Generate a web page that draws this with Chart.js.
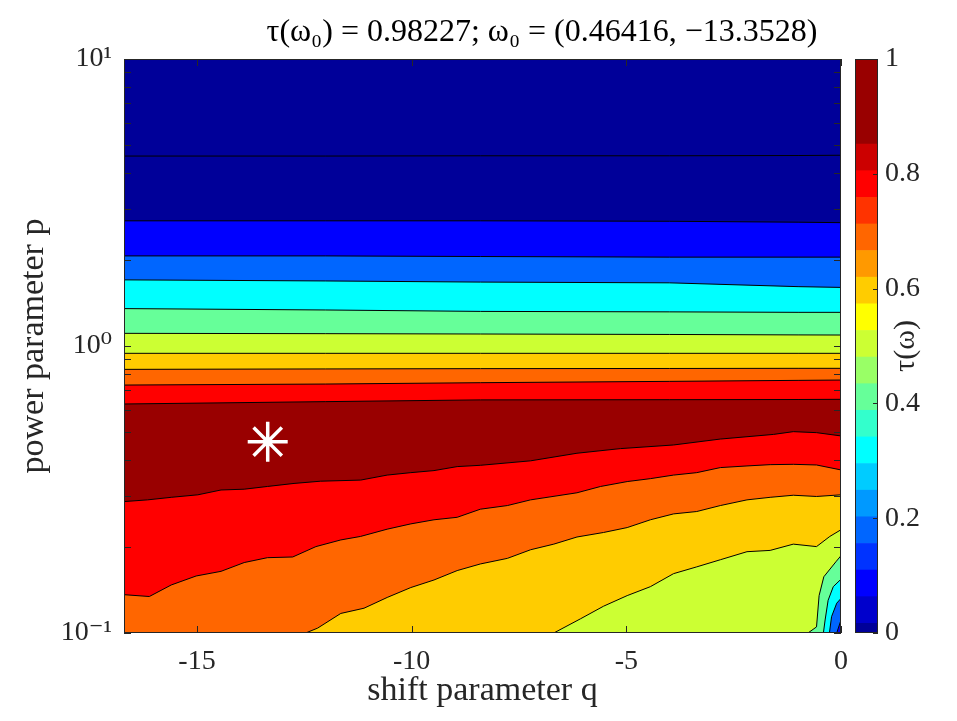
<!DOCTYPE html>
<html>
<head>
<meta charset="utf-8">
<script src="https://cdn.jsdelivr.net/npm/chart.js@4.4.0/dist/chart.umd.min.js"></script>
<style>
  html, body { margin: 0; padding: 0; background: #fff; overflow: hidden; }
  #wrap { position: relative; width: 957px; height: 721px; }
  #wrap canvas { position: absolute; left: 0; top: 0; }
</style>
</head>
<body>
<div id="wrap">
  <canvas id="contourChart" width="957" height="721"></canvas>
  <canvas id="colorbarChart" width="957" height="721"></canvas>
</div>
<script>
// optimum found
const tau0 = 0.98227;
const p0 = 0.46416;
const q0 = -13.3528;

// contour levels and the fill colour of the band starting at each level
const levels = [0, 0.1, 0.2, 0.3, 0.4, 0.5, 0.6, 0.7, 0.8, 0.9];
const bandColors = ['#000099', '#0000FF', '#0066FF', '#00FFFF', '#66FF99',
                    '#CCFF33', '#FFCC00', '#FF6600', '#FF0000', '#990000'];

// upper contours (tau grows as p goes down), read at these q
const qUpper = [-16.7, -12, -8.4, -4, -1, 0];
const pUpper00 = [4.59, 4.59, 4.60, 4.60, 4.61, 4.62];
const pUpper01 = [2.73, 2.73, 2.73, 2.72, 2.70, 2.69];
const pUpper02 = [2.06, 2.06, 2.05, 2.04, 2.04, 2.04];
const pUpper03 = [1.70, 1.685, 1.67, 1.66, 1.61, 1.60];
const pUpper04 = [1.35, 1.335, 1.32, 1.315, 1.31, 1.31];
const pUpper05 = [1.107, 1.104, 1.101, 1.097, 1.093, 1.092];
const pUpper06 = [0.943, 0.943, 0.943, 0.943, 0.943, 0.943];
const pUpper07 = [0.829, 0.832, 0.834, 0.835, 0.836, 0.836];
const pUpper08 = [0.731, 0.737, 0.745, 0.753, 0.759, 0.761];
const pUpper09 = [0.628, 0.640, 0.649, 0.650, 0.651, 0.652];

// lower contours (tau falls again as p goes down)
const qLower09 = [-16.7, -16.15, -15.6, -14.98, -14.44, -13.9, -13.36, -12.74, -12.12, -11.19, -10.57, -10.02,
                  -9.48, -8.94, -8.4, -7.23, -6.15, -5.14, -3.9, -2.81, -1.57, -1.11, -0.57, 0];
const pLower09 = [0.287, 0.291, 0.297, 0.303, 0.315, 0.317, 0.324, 0.332, 0.338, 0.341, 0.355, 0.362,
                  0.368, 0.380, 0.384, 0.398, 0.423, 0.439, 0.452, 0.474, 0.492, 0.503, 0.499, 0.486];
const qLower08 = [-16.7, -16.11, -15.6, -15.02, -14.44, -13.9, -13.36, -12.77, -12.23, -11.65, -11.19, -10.57,
                  -10.02, -9.48, -8.94, -8.4, -7.77, -7.23, -6.15, -5.6, -4.98, -4.44, -3.9, -3.36,
                  -2.81, -2.19, -1.65, -1.11, -0.57, 0];
const pLower08 = [0.136, 0.134, 0.147, 0.158, 0.164, 0.176, 0.183, 0.184, 0.200, 0.211, 0.217, 0.230,
                  0.240, 0.248, 0.253, 0.270, 0.278, 0.291, 0.308, 0.324, 0.337, 0.345, 0.355, 0.362,
                  0.377, 0.382, 0.386, 0.387, 0.385, 0.370];
const qLower07 = [-12.47, -12.19, -11.65, -11.11, -10.57, -10.02, -9.48, -8.94, -8.4, -7.77, -7.23, -6.69,
                  -6.15, -5.53, -4.98, -4.44, -3.9, -3.36, -2.81, -2.19, -1.65, -1.11, -0.57, 0];
const pLower07 = [0.1, 0.104, 0.117, 0.122, 0.133, 0.144, 0.153, 0.165, 0.174, 0.182, 0.195, 0.204,
                  0.216, 0.224, 0.233, 0.248, 0.260, 0.265, 0.278, 0.291, 0.297, 0.302, 0.299, 0.303];
const qLower06 = [-6.69, -6.07, -5.53, -4.98, -4.44, -3.9, -3.36, -2.81, -2.19, -1.65, -1.11, -0.57, -0.26, 0];
const pLower06 = [0.1, 0.112, 0.124, 0.135, 0.145, 0.161, 0.170, 0.180, 0.192, 0.194, 0.204, 0.200, 0.217, 0.229];
const qLower05 = [-0.77, -0.57, -0.51, -0.4, -0.12, 0];
const pLower05 = [0.1, 0.105, 0.135, 0.157, 0.177, 0.186];
const qLower04 = [-0.41, -0.37, -0.3, -0.18, 0];
const pLower04 = [0.1, 0.111, 0.130, 0.145, 0.154];
const qLower03 = [-0.27, -0.22, -0.1, 0];
const pLower03 = [0.1, 0.114, 0.127, 0.132];
const qLower02 = [-0.1, 0];
const pLower02 = [0.1, 0.111];

// axes
const qRange = [-16.7, 0];
const pRange = [0.1, 10];
const qTicks = [-15, -10, -5, 0];
const pTicks = [0.1, 1, 10];
const pTickLabels = ['10\u207B\u00B9', '10\u2070', '10\u00B9'];
const pMinorTicks = [0.2, 0.3, 0.4, 0.5, 0.6, 0.7, 0.8, 0.9, 2, 3, 4, 5, 6, 7, 8, 9];

// colorbar
const cbEdges = [0, 0.0169, 0.0633, 0.1097, 0.1560, 0.2024, 0.2488, 0.2952, 0.3416, 0.3880, 0.4343,
                 0.4807, 0.5271, 0.5735, 0.6199, 0.6663, 0.7126, 0.7590, 0.8054, 0.8518, 1];
const cbColors = ['#000099', '#0000CC', '#0000FF', '#0033FF', '#0066FF', '#0099FF', '#00CCFF', '#00FFFF',
                  '#33FFCC', '#66FF99', '#99FF66', '#CCFF33', '#FFFF00', '#FFCC00', '#FF9900', '#FF6600',
                  '#FF3300', '#FF0000', '#CC0000', '#990000'];
const cbTicks = [0, 0.2, 0.4, 0.6, 0.8, 1];

const serif = '"Liberation Serif", "DejaVu Serif", serif';
const axisColor = '#262626';

// contour list: [q, p, fill colour below the line]
const upperP = [pUpper00, pUpper01, pUpper02, pUpper03, pUpper04, pUpper05, pUpper06, pUpper07, pUpper08, pUpper09];
const contours = upperP.map((ps, i) => [qUpper, ps, bandColors[i]]);
contours.push(
  [qLower09, pLower09, bandColors[8]],
  [qLower08, pLower08, bandColors[7]],
  [qLower07, pLower07, bandColors[6]],
  [qLower06, pLower06, bandColors[5]],
  [qLower05, pLower05, bandColors[4]],
  [qLower04, pLower04, bandColors[3]],
  [qLower03, pLower03, bandColors[2]],
  [qLower02, pLower02, bandColors[1]]
);

const datasets = contours.map(([qs, ps, color], i) => ({
  data: qs.map((q, j) => ({ x: q, y: ps[j] })),
  borderColor: '#000',
  borderWidth: 1,
  backgroundColor: color,
  fill: 'start',
  pointRadius: 0,
  tension: 0,
  order: contours.length - i + 1   // first contour is painted first
}));

datasets.push({
  data: [{ x: q0, y: p0 }],
  showLine: false,
  pointStyle: 'star',
  pointRadius: 20,
  borderColor: '#fff',
  borderWidth: 3.5,
  fill: false,
  order: 0
});

const plotFrame = {
  id: 'plotFrame',
  beforeDatasetsDraw(chart) {
    const { ctx, chartArea: a } = chart;
    ctx.save();
    ctx.fillStyle = bandColors[0];
    ctx.fillRect(a.left, a.top, a.width, a.height);
    ctx.restore();
  },
  afterDatasetsDraw(chart) {
    const { ctx, chartArea: a, scales: { x, y } } = chart;
    ctx.save();
    ctx.strokeStyle = axisColor;
    ctx.lineWidth = 1;
    ctx.beginPath();
    qTicks.forEach(v => {
      const px = Math.round(x.getPixelForValue(v)) + 0.5;
      ctx.moveTo(px, a.bottom); ctx.lineTo(px, a.bottom - 7);
      ctx.moveTo(px, a.top); ctx.lineTo(px, a.top + 7);
    });
    pTicks.concat(pMinorTicks).forEach(v => {
      const py = Math.round(y.getPixelForValue(v)) + 0.5;
      ctx.moveTo(a.left, py); ctx.lineTo(a.left + 7, py);
      ctx.moveTo(a.right, py); ctx.lineTo(a.right - 7, py);
    });
    ctx.stroke();
    ctx.strokeRect(a.left + 0.5, a.top + 0.5, a.width - 1, a.height - 1);
    ctx.restore();
  },
  afterDraw(chart) {
    const ctx = chart.ctx;
    ctx.save();
    ctx.font = '32px ' + serif;
    ctx.fillStyle = '#000';
    ctx.textAlign = 'center';
    ctx.textBaseline = 'middle';
    ctx.fillText('\u03C4(\u03C9\u2080) = ' + tau0 + '; \u03C9\u2080 = (' + p0 + ', \u2212' + Math.abs(q0) + ')', 542, 33);
    ctx.restore();
  }
};

new Chart(document.getElementById('contourChart'), {
  type: 'line',
  data: { datasets },
  options: {
    responsive: false,
    animation: false,
    events: [],
    layout: { padding: { left: 14, right: 116, top: 59, bottom: 6 } },
    plugins: { legend: { display: false }, tooltip: { enabled: false }, title: { display: false } },
    scales: {
      x: {
        type: 'linear',
        min: qRange[0],
        max: qRange[1],
        grid: { display: false, drawTicks: false },
        border: { display: false },
        afterBuildTicks: s => { s.ticks = qTicks.map(v => ({ value: v })); },
        afterFit: s => { s.height = 82; },
        ticks: { color: axisColor, padding: 12, font: { family: serif, size: 28 }, callback: v => String(v) },
        title: { display: true, text: 'shift parameter q', color: axisColor, font: { family: serif, size: 34 }, padding: { top: 0 } }
      },
      y: {
        type: 'logarithmic',
        min: pRange[0],
        max: pRange[1],
        grid: { display: false, drawTicks: false },
        border: { display: false },
        afterBuildTicks: s => { s.ticks = pTicks.map(v => ({ value: v })); },
        afterFit: s => { s.width = 110; },
        ticks: { color: axisColor, padding: 12, font: { family: serif, size: 28 },
                 callback: v => pTickLabels[pTicks.indexOf(v)] },
        title: { display: true, text: 'power parameter p', color: axisColor, font: { family: serif, size: 34 }, padding: 0 }
      }
    }
  },
  plugins: [plotFrame]
});

const colorbarFrame = {
  id: 'colorbarFrame',
  afterDatasetsDraw(chart) {
    const { ctx, chartArea: a, scales: { y } } = chart;
    ctx.save();
    ctx.strokeStyle = axisColor;
    ctx.lineWidth = 1;
    ctx.beginPath();
    cbTicks.forEach(v => {
      const py = Math.round(y.getPixelForValue(v)) + 0.5;
      ctx.moveTo(a.right, py); ctx.lineTo(a.right - 5, py);
    });
    ctx.stroke();
    ctx.strokeRect(a.left + 0.5, a.top + 0.5, a.width - 1, a.height - 1);
    ctx.restore();
  },
  afterDraw(chart) {
    const { ctx, chartArea: a } = chart;
    ctx.save();
    ctx.translate(906, (a.top + a.bottom) / 2);
    ctx.rotate(-Math.PI / 2);
    ctx.font = '30px ' + serif;
    ctx.fillStyle = axisColor;
    ctx.textAlign = 'center';
    ctx.textBaseline = 'middle';
    ctx.fillText('\u03C4(\u03C9)', 0, 0);
    ctx.restore();
  }
};

new Chart(document.getElementById('colorbarChart'), {
  type: 'bar',
  data: {
    labels: ['tau'],
    datasets: cbColors.map((c, i) => ({
      data: [[cbEdges[i], cbEdges[i + 1]]],
      backgroundColor: c,
      borderWidth: 0,
      grouped: false,
      barPercentage: 1,
      categoryPercentage: 1
    }))
  },
  options: {
    responsive: false,
    animation: false,
    events: [],
    layout: { padding: { left: 855, right: 0, top: 59, bottom: 88 } },
    plugins: { legend: { display: false }, tooltip: { enabled: false } },
    scales: {
      x: { display: false },
      y: {
        position: 'right',
        min: 0,
        max: 1,
        grid: { display: false, drawTicks: false },
        border: { display: false },
        afterBuildTicks: s => { s.ticks = cbTicks.map(v => ({ value: v })); },
        afterFit: s => { s.width = 79; },
        ticks: { color: axisColor, padding: 7, font: { family: serif, size: 28 }, callback: v => String(v) }
      }
    }
  },
  plugins: [colorbarFrame]
});
</script>
</body>
</html>
